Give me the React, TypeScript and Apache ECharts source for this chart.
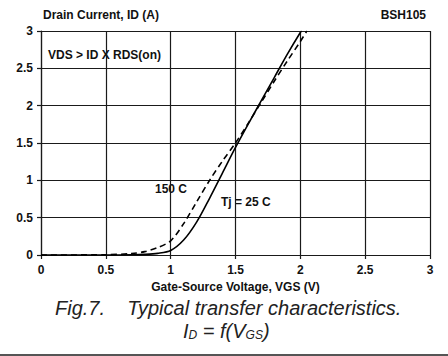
import React, { useEffect, useRef } from "react";
import * as echarts from "echarts";

const xTicks = [0, 0.5, 1, 1.5, 2, 2.5, 3];
const yTicks = [0, 0.5, 1, 1.5, 2, 2.5, 3];

const vgs25 = [0, 0.5, 0.7, 0.8, 0.9, 1.0, 1.1, 1.2, 1.3, 1.4, 1.5, 1.6, 1.7, 1.8, 1.9, 2.0, 2.01];
const id25 = [0, 0, 0.003, 0.008, 0.022, 0.06, 0.2, 0.44, 0.76, 1.1, 1.44, 1.76, 2.07, 2.38, 2.69, 2.98, 3.0];

const vgs150 = [0, 0.5, 0.7, 0.8, 0.9, 1.0, 1.1, 1.2, 1.3, 1.4, 1.5, 1.6, 1.7, 1.8, 1.9, 2.0, 2.05];
const id150 = [0, 0.004, 0.02, 0.045, 0.1, 0.19, 0.42, 0.71, 1.0, 1.26, 1.5, 1.77, 2.05, 2.33, 2.6, 2.86, 3.0];

const FONT = "'Liberation Sans', Arial, sans-serif";

export default function App() {
  const ref = useRef<HTMLDivElement>(null);
  useEffect(() => {
    if (!ref.current) return;
    const chart = echarts.init(ref.current, undefined, { renderer: "svg" });
    const lineStyleAxis = { color: "#1a1a1a", width: 1.2 };
    chart.setOption({
      animation: false,
      backgroundColor: "#ffffff",
      textStyle: { fontFamily: FONT },
      grid: { left: 41, right: 18, top: 31, bottom: 101, containLabel: false },
      xAxis: {
        type: "value",
        min: 0,
        max: 3,
        interval: 0.5,
        axisLine: { show: true, onZero: false, lineStyle: lineStyleAxis },
        axisTick: { show: true, length: 4, lineStyle: lineStyleAxis },
        splitLine: { show: true, lineStyle: lineStyleAxis },
        axisLabel: {
          color: "#111",
          fontWeight: "bold",
          fontSize: 12,
          fontFamily: FONT,
          margin: 9,
          formatter: (v: number) => (xTicks.includes(v) ? String(v) : ""),
        },
        name: "Gate-Source Voltage, VGS (V)",
        nameLocation: "middle",
        nameGap: 25,
        nameTextStyle: { color: "#111", fontWeight: "bold", fontSize: 12, fontFamily: FONT },
      },
      yAxis: {
        type: "value",
        min: 0,
        max: 3,
        interval: 0.5,
        axisLine: { show: true, lineStyle: lineStyleAxis },
        axisTick: { show: true, length: 4, lineStyle: lineStyleAxis },
        splitLine: { show: true, lineStyle: lineStyleAxis },
        axisLabel: {
          color: "#111",
          fontWeight: "bold",
          fontSize: 12,
          fontFamily: FONT,
          margin: 8,
          formatter: (v: number) => (yTicks.includes(v) ? String(v) : ""),
        },
      },
      series: [
        {
          type: "line",
          name: "Tj = 25 C",
          data: vgs25.map((x, i) => [x, id25[i]]),
          smooth: 0.3,
          showSymbol: false,
          lineStyle: { color: "#000", width: 1.6, type: "solid" },
          z: 5,
        },
        {
          type: "line",
          name: "150 C",
          data: vgs150.map((x, i) => [x, id150[i]]),
          smooth: 0.3,
          showSymbol: false,
          lineStyle: { color: "#000", width: 1.6, type: [6, 4] },
          z: 5,
        },
      ],
      graphic: [
        {
          type: "text",
          left: 43,
          top: 9,
          style: { text: "Drain Current, ID (A)", font: `bold 12px ${FONT}`, fill: "#111" },
        },
        {
          type: "text",
          right: 22,
          top: 9,
          style: { text: "BSH105", font: `bold 12px ${FONT}`, fill: "#111" },
        },
        {
          type: "text",
          left: 48,
          top: 49,
          style: { text: "VDS > ID X RDS(on)", font: `bold 12px ${FONT}`, fill: "#111" },
        },
        {
          type: "text",
          left: 155,
          top: 183,
          style: { text: "150 C", font: `bold 12px ${FONT}`, fill: "#111" },
        },
        {
          type: "text",
          left: 221,
          top: 196,
          style: { text: "Tj = 25 C", font: `bold 12px ${FONT}`, fill: "#111" },
        },
        {
          type: "text",
          left: 55,
          top: 298,
          style: {
            text: "Fig.7.    Typical transfer characteristics.",
            font: `italic 20px ${FONT}`,
            fill: "#222",
          },
        },
        {
          type: "text",
          left: 183,
          top: 321,
          style: {
            text: "{m|I}{s|D}{m| = f(V}{s|GS}{m|)}",
            rich: {
              m: { fontSize: 20, fontStyle: "italic", fontFamily: FONT, fill: "#222", verticalAlign: "bottom" },
              s: { fontSize: 12, fontStyle: "italic", fontFamily: FONT, fill: "#222", padding: [9, 0, 0, 0], verticalAlign: "bottom" },
            },
          },
        },
        {
          type: "rect",
          shape: { x: 0, y: 354, width: 448, height: 2 },
          style: { fill: "#555" },
        },
      ],
    });
    return () => chart.dispose();
  }, []);
  return <div ref={ref} style={{ width: 448, height: 356, position: "absolute", left: 0, top: 0 }} />;
}
